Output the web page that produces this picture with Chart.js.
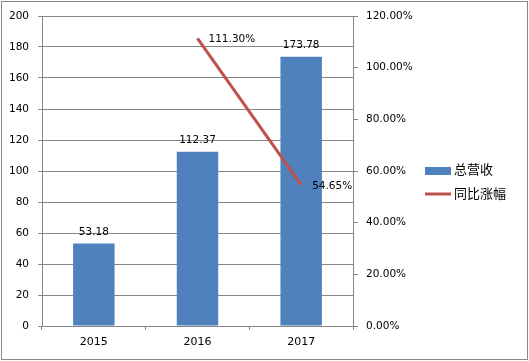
<!DOCTYPE html>
<html>
<head>
<meta charset="utf-8">
<script src="https://cdn.jsdelivr.net/npm/chart.js@4.4.1/dist/chart.umd.min.js"></script>
<style>
  html, body { margin: 0; padding: 0; background: #fff; }
  #wrap { width: 529px; height: 361px; position: relative; }
</style>
</head>
<body>
<div id="wrap"><canvas id="chart" width="529" height="361"></canvas></div>
<script>
const years = ['2015', '2016', '2017'];
const revenue = [53.18, 112.37, 173.78];
const growth = [null, 111.30, 54.65];
const revenueLabel = '总营收';
const growthLabel = '同比涨幅';

const numFont = '10.5px "DejaVu Sans", sans-serif';
const cjkFont = '13px "Noto Sans CJK SC", sans-serif';
const gridColor = '#868686';

// draws value labels, legend and outer frame
const extras = {
    id: 'extras',
    afterDatasetsDraw(chart) {
        const ctx = chart.ctx;
        ctx.save();
        ctx.fillStyle = '#000';
        ctx.font = numFont;

        // bar values
        ctx.textAlign = 'center';
        ctx.textBaseline = 'bottom';
        chart.getDatasetMeta(0).data.forEach((bar, i) => {
            ctx.fillText(revenue[i].toFixed(2), bar.x, bar.y - 6);
        });

        // line values
        ctx.textAlign = 'left';
        ctx.textBaseline = 'middle';
        chart.getDatasetMeta(1).data.forEach((pt, i) => {
            if (growth[i] === null) return;
            ctx.fillText(growth[i].toFixed(2) + '%', pt.x + 11, pt.y + 1);
        });

        // legend
        ctx.fillStyle = '#4F81BD';
        ctx.fillRect(425, 167, 26, 8);
        ctx.strokeStyle = '#C0504D';
        ctx.lineWidth = 3;
        ctx.beginPath();
        ctx.moveTo(425, 194);
        ctx.lineTo(451, 194);
        ctx.stroke();
        ctx.fillStyle = '#000';
        ctx.font = cjkFont;
        ctx.fillText(revenueLabel, 454, 169);
        ctx.fillText(growthLabel, 454, 193);

        // frame
        ctx.strokeStyle = '#888';
        ctx.lineWidth = 1;
        ctx.strokeRect(1.5, 1.5, 526, 358);
        ctx.restore();
    }
};

new Chart(document.getElementById('chart'), {
    type: 'bar',
    data: {
        labels: years,
        datasets: [{
            label: revenueLabel,
            data: revenue,
            backgroundColor: '#4F81BD',
            categoryPercentage: 1,
            barPercentage: 0.4,
            yAxisID: 'y',
            order: 2
        }, {
            type: 'line',
            label: growthLabel,
            data: growth,
            borderColor: '#C0504D',
            borderWidth: 3,
            pointRadius: 0,
            spanGaps: false,
            yAxisID: 'y1',
            order: 1
        }]
    },
    options: {
        responsive: false,
        animation: false,
        devicePixelRatio: 1,
        layout: { padding: { top: 16, left: 0, right: 0, bottom: 0 } },
        plugins: { legend: { display: false }, tooltip: { enabled: false } },
        scales: {
            x: {
                grid: { offset: true, drawOnChartArea: false, color: gridColor, tickLength: 4 },
                border: { color: gridColor },
                ticks: { color: '#000', font: { family: 'DejaVu Sans', size: 11 }, padding: 6, maxRotation: 0 },
                afterFit: s => { s.height = 35; }
            },
            y: {
                position: 'left',
                min: 0, max: 200,
                grid: { color: gridColor, tickLength: 4 },
                border: { color: gridColor },
                ticks: { stepSize: 20, color: '#000', font: { family: 'DejaVu Sans', size: 10.5 }, padding: 9 },
                afterFit: s => { s.width = 42; }
            },
            y1: {
                position: 'right',
                min: 0, max: 120,
                grid: { drawOnChartArea: false, color: gridColor, tickLength: 5 },
                border: { color: gridColor },
                ticks: {
                    stepSize: 20, color: '#000', font: { family: 'DejaVu Sans', size: 10.5 }, padding: 8,
                    callback: v => v.toFixed(2) + '%'
                },
                afterFit: s => { s.width = 176; }
            }
        }
    },
    plugins: [extras]
});
</script>
</body>
</html>
